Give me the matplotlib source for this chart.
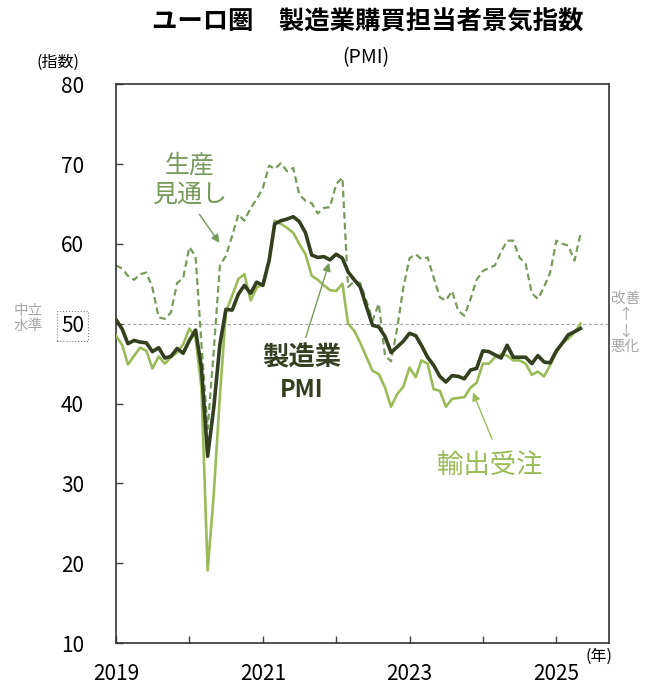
import matplotlib
matplotlib.use('Agg')
import matplotlib.pyplot as plt
import pandas as pd

plt.rcParams['font.family'] = ['Noto Sans CJK JP', 'DejaVu Sans']

# monthly data, Jan 2019 - May 2025
months = pd.date_range('2019-01-01', periods=77, freq='MS')

pmi = [50.5, 49.3, 47.5, 47.9, 47.7, 47.6, 46.5, 47.0, 45.7, 45.9, 46.9, 46.3,
       47.9, 49.2, 44.5, 33.4, 39.4, 47.4, 51.8, 51.7, 53.7, 54.8, 53.8, 55.2,
       54.8, 57.9, 62.5, 62.9, 63.1, 63.4, 62.8, 61.4, 58.6, 58.3, 58.4, 58.0,
       58.7, 58.2, 56.5, 55.5, 54.6, 52.1, 49.8, 49.6, 48.4, 46.4, 47.1, 47.8,
       48.8, 48.5, 47.3, 45.8, 44.8, 43.4, 42.7, 43.5, 43.4, 43.1, 44.2, 44.4,
       46.6, 46.5, 46.1, 45.7, 47.3, 45.8, 45.8, 45.8, 45.0, 46.0, 45.2, 45.1,
       46.6, 47.6, 48.6, 49.0, 49.4]

export_orders = [48.5, 47.3, 44.9, 46.0, 47.0, 46.6, 44.4, 45.9, 45.0, 45.8, 46.4, 47.4,
                 49.4, 48.2, 42.0, 19.1, 28.5, 41.0, 51.5, 53.5, 55.6, 56.2, 52.9, 54.5,
                 55.0, 58.0, 62.9, 62.5, 62.0, 61.4, 60.0, 58.7, 56.0, 55.5, 54.8, 54.2,
                 54.1, 55.0, 50.0, 49.1, 47.6, 45.8, 44.1, 43.7, 42.0, 39.6, 41.2, 42.1,
                 44.5, 43.3, 45.4, 45.0, 41.8, 41.6, 39.6, 40.6, 40.7, 40.8, 42.0, 42.6,
                 45.0, 45.0, 45.8, 46.2, 46.0, 45.4, 45.4, 45.0, 43.6, 44.0, 43.4, 44.8,
                 46.4, 47.6, 48.1, 48.9, 50.0]

future_output = [57.3, 56.9, 56.0, 55.5, 56.2, 56.4, 54.5, 50.8, 50.6, 51.4, 55.1, 55.7,
                 59.6, 58.4, 47.5, 36.8, 46.5, 57.3, 58.5, 61.0, 63.7, 62.9, 64.5, 65.6,
                 67.0, 69.8, 69.4, 70.1, 69.1, 69.5, 66.2, 65.4, 65.1, 63.8, 64.5, 64.6,
                 67.5, 68.3, 54.6, 55.3, 55.1, 52.8, 50.4, 52.5, 46.0, 45.3, 49.5, 54.5,
                 58.2, 58.7, 58.1, 58.3, 55.8, 53.3, 52.9, 54.1, 51.6, 51.0, 53.1, 55.5,
                 56.6, 57.0, 57.3, 59.0, 60.4, 60.4, 58.3, 57.5, 53.8, 53.1, 54.6, 56.4,
                 60.4, 60.0, 59.8, 57.9, 61.2]

years = list(range(2019, 2026))
yticks = [10, 20, 30, 40, 50, 60, 70, 80]

c_pmi = '#343f20'
c_exp = '#9bbb59'
c_fut = '#789a5c'

fig = plt.figure(figsize=(6.52, 6.90), dpi=100)
ax = fig.add_axes([0.178, 0.068, 0.756, 0.810])

ax.axhline(50, color='#a6a6a6', lw=0.8, ls=(0, (3, 2)), zorder=1)
ax.plot(months, future_output, color=c_fut, lw=1.6, ls=(0, (3, 1.8)), zorder=2)
ax.plot(months, export_orders, color=c_exp, lw=1.9, zorder=3)
ax.plot(months, pmi, color=c_pmi, lw=2.6, zorder=4)

ax.set_ylim(10, 80)
ax.set_xlim(pd.Timestamp('2019-01-01'), pd.Timestamp('2025-09-20'))
ax.set_yticks(yticks)
ax.set_yticklabels([str(v) for v in yticks], fontsize=15)
ax.set_xticks([pd.Timestamp(f'{y}-01-01') for y in years])
ax.set_xticklabels([str(y) if y % 2 == 1 else '' for y in years], fontsize=15)
ax.tick_params(axis='both', direction='in', length=5, width=1, color='#404040')
ax.tick_params(axis='y', pad=23)
ax.tick_params(axis='x', pad=14)
for s in ax.spines.values():
    s.set_color('#333333')
    s.set_linewidth(1.2)

# dotted box round the 50 label
ax.get_yticklabels()[4].set_bbox(dict(boxstyle='square,pad=0.2', fc='none',
                                      ec='#808080', ls=':', lw=0.8))

# titles and unit labels
fig.text(0.564, 0.968, 'ユーロ圏\u3000製造業購買担当者景気指数', ha='center', va='center',
         fontsize=18.3, fontweight='bold')
fig.text(0.561, 0.917, '(PMI)', ha='center', va='center', fontsize=14)
fig.text(0.089, 0.910, '(指数)', ha='center', va='center', fontsize=11.5)
fig.text(0.919, 0.049, '(年)', ha='center', va='center', fontsize=11.5)
fig.text(0.044, 0.539, '中立\n水準', ha='center', va='center', fontsize=10.5,
         color='#a6a6a6', linespacing=1.1)
fig.text(0.959, 0.532, '改善\n↑\n↓\n悪化', ha='center', va='center', fontsize=10.5,
         color='#a6a6a6', linespacing=1.2)

# series labels with arrows
ax.text(0.150, 0.828, '生産\n見通し', transform=ax.transAxes, ha='center', va='center',
        fontsize=18, color=c_fut, linespacing=1.15)
ax.annotate('', xy=(0.213, 0.712), xytext=(0.166, 0.771), xycoords='axes fraction',
            arrowprops=dict(arrowstyle='-|>', color=c_fut, lw=1, mutation_scale=12))

ax.text(0.377, 0.510, '製造業', transform=ax.transAxes, ha='center', va='center',
        fontsize=19, fontweight='bold', color=c_pmi)
ax.text(0.377, 0.453, 'PMI', transform=ax.transAxes, ha='center', va='center',
        fontsize=17, fontweight='bold', color=c_pmi)
ax.annotate('', xy=(0.434, 0.685), xytext=(0.383, 0.542), xycoords='axes fraction',
            arrowprops=dict(arrowstyle='-|>', color=c_fut, lw=1, mutation_scale=12))

ax.text(0.759, 0.318, '輸出受注', transform=ax.transAxes, ha='center', va='center',
        fontsize=19, color=c_exp)
ax.annotate('', xy=(0.722, 0.453), xytext=(0.765, 0.360), xycoords='axes fraction',
            arrowprops=dict(arrowstyle='-|>', color=c_exp, lw=1, mutation_scale=12))

fig.savefig('out.png', dpi=100)
